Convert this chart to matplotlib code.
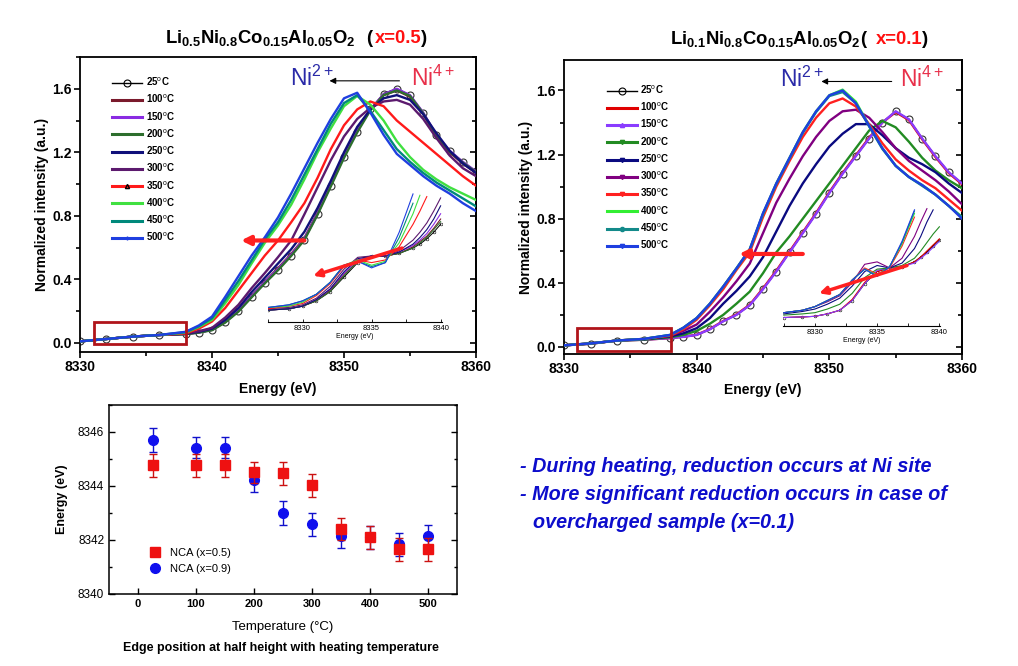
import numpy as np
import matplotlib
matplotlib.use('Agg')
import matplotlib.pyplot as plt
from matplotlib.lines import Line2D
from matplotlib.patches import Rectangle
from matplotlib.ticker import MultipleLocator

plt.rcParams['font.family'] = ['Liberation Sans', 'DejaVu Sans']
plt.rcParams['mathtext.fontset'] = 'custom'
plt.rcParams['mathtext.rm'] = 'Liberation Sans'
plt.rcParams['mathtext.bf'] = 'Liberation Sans:bold'
plt.rcParams['mathtext.it'] = 'Liberation Sans:italic'

nan = np.nan

# ---------------- data ----------------
temps = [25, 100, 150, 200, 250, 300, 350, 400, 450, 500]
temp_labels = [r'%d$^{\rm o}$C' % t for t in temps]

energy = [8330, 8332, 8334, 8336, 8338, 8339, 8340, 8341, 8342, 8343, 8344, 8345, 8346, 8347,
          8348, 8349, 8350, 8351, 8352, 8353, 8354, 8355, 8356, 8357, 8358, 8359, 8360]

# x = 0.5 sample
L25 = [.010, .025, .040, .050, .055, .065, .080, .130, .200, .290, .380, .460, .550, .650, .810, .990, 1.170, 1.330, 1.470, 1.570, 1.600, 1.560, 1.450, 1.310, 1.210, 1.140, 1.080]
L100 = [.010, .025, .040, .050, .056, .067, .083, .135, .205, .295, .385, .470, .560, .660, .820, 1.000, 1.180, 1.340, 1.470, 1.560, 1.590, 1.550, 1.440, 1.300, 1.200, 1.130, 1.070]
L150 = [.010, .025, .040, .050, .056, .066, .082, .133, .203, .293, .383, .465, .555, .655, .815, .995, 1.175, 1.335, 1.470, 1.565, 1.600, 1.560, 1.450, 1.310, 1.210, 1.140, 1.080]
L200 = [.010, .025, .040, .050, .055, .065, .080, .128, .197, .287, .375, .458, .548, .648, .808, .985, 1.165, 1.325, 1.465, 1.560, 1.590, 1.555, 1.445, 1.305, 1.205, 1.135, 1.075]
L250 = [.010, .025, .040, .050, .058, .070, .090, .145, .220, .320, .410, .500, .590, .700, .850, 1.020, 1.200, 1.360, 1.470, 1.540, 1.560, 1.530, 1.440, 1.320, 1.210, 1.130, 1.070]
L300 = [.010, .025, .040, .050, .060, .074, .095, .160, .240, .345, .440, .540, .645, .810, .980, 1.150, 1.300, 1.410, 1.480, 1.520, 1.530, 1.500, 1.410, 1.290, 1.180, 1.100, 1.050]
L350 = [.010, .025, .040, .050, .060, .090, .135, .220, .330, .440, .550, .645, .760, .880, 1.040, 1.220, 1.370, 1.470, 1.520, 1.490, 1.400, 1.330, 1.260, 1.190, 1.120, 1.050, .990]
L400 = [.010, .025, .040, .050, .065, .100, .145, .250, .365, .500, .630, .740, .870, 1.030, 1.200, 1.350, 1.490, 1.555, 1.500, 1.400, 1.270, 1.170, 1.090, 1.030, .980, .940, .900]
L450 = [.010, .025, .040, .050, .068, .105, .155, .270, .390, .520, .650, .760, .900, 1.060, 1.220, 1.380, 1.510, 1.560, 1.460, 1.340, 1.220, 1.140, 1.070, 1.010, .960, .910, .860]
L500 = [.010, .025, .040, .050, .070, .110, .166, .290, .420, .550, .665, .790, .940, 1.100, 1.260, 1.410, 1.540, 1.575, 1.450, 1.310, 1.190, 1.120, 1.050, .990, .940, .880, .830]

# x = 0.1 sample
R25 = [.010, .020, .040, .045, .055, .063, .075, .110, .160, .200, .260, .360, .470, .590, .710, .830, .960, 1.080, 1.190, 1.300, 1.400, 1.470, 1.420, 1.300, 1.190, 1.090, 1.020]
R100 = [.010, .020, .040, .045, .055, .064, .076, .112, .162, .203, .263, .365, .475, .595, .715, .835, .965, 1.085, 1.195, 1.305, 1.400, 1.465, 1.415, 1.295, 1.185, 1.085, 1.015]
R150 = [.010, .020, .040, .045, .055, .063, .075, .110, .160, .200, .260, .360, .470, .590, .710, .830, .960, 1.080, 1.190, 1.300, 1.400, 1.470, 1.420, 1.300, 1.190, 1.090, 1.020]
R200 = [.010, .020, .040, .045, .060, .075, .100, .145, .200, .270, .345, .460, .590, .690, .800, .910, 1.020, 1.130, 1.240, 1.350, 1.410, 1.370, 1.280, 1.180, 1.100, 1.040, .990]
R250 = [.010, .022, .040, .048, .065, .085, .117, .180, .270, .350, .440, .560, .720, .880, 1.020, 1.140, 1.250, 1.330, 1.390, 1.390, 1.320, 1.240, 1.180, 1.140, 1.090, 1.020, .960]
R300 = [.010, .022, .040, .050, .070, .100, .140, .220, .310, .410, .520, .710, .900, 1.050, 1.190, 1.310, 1.410, 1.470, 1.480, 1.430, 1.340, 1.240, 1.160, 1.100, 1.040, .970, .890]
R350 = [.010, .022, .040, .050, .070, .110, .170, .260, .360, .480, .590, .810, 1.000, 1.160, 1.310, 1.430, 1.520, 1.550, 1.500, 1.390, 1.270, 1.170, 1.100, 1.040, .990, .920, .850]
R400 = [.010, .022, .040, .050, .075, .120, .180, .270, .377, .490, .610, .830, 1.020, 1.180, 1.340, 1.470, 1.570, 1.605, 1.530, 1.380, 1.240, 1.130, 1.060, 1.010, .950, .880, .810]
R450 = [.010, .022, .040, .050, .075, .120, .180, .270, .375, .490, .605, .830, 1.015, 1.175, 1.335, 1.465, 1.565, 1.590, 1.520, 1.375, 1.235, 1.130, 1.060, 1.005, .950, .880, .810]
R500 = [.010, .022, .040, .050, .075, .120, .180, .270, .377, .490, .610, .835, 1.020, 1.180, 1.340, 1.470, 1.570, 1.600, 1.520, 1.380, 1.240, 1.130, 1.060, 1.010, .950, .880, .800]

# inset (pre-edge) curves, arbitrary units
energy_inset = [8327.5, 8329, 8330, 8331, 8332, 8333, 8334, 8335, 8336, 8337, 8338, 8338.5, 8339, 8339.5, 8340]
IL25 = [.09, .10, .12, .16, .23, .34, .45, .50, .50, .52, .56, .59, .63, .68, .74]
IL100 = [.09, .10, .12, .16, .24, .36, .46, .50, .50, .52, .57, .61, .65, .71, .78]
IL150 = [.09, .10, .12, .17, .25, .37, .47, .50, .50, .53, .58, .62, .67, .74, .82]
IL200 = [.09, .10, .12, .16, .23, .35, .46, .50, .50, .52, .56, .60, .64, .70, .76]
IL250 = [.09, .10, .12, .17, .25, .38, .48, .50, .50, .53, .59, .64, .70, .78, .88]
IL300 = [.10, .11, .13, .18, .27, .40, .49, .50, .50, .54, .62, .68, .75, .84, .94]
IL350 = [.10, .12, .14, .20, .29, .42, .47, .45, .47, .57, .74, .84, .95, nan, nan]
IL400 = [.11, .12, .15, .21, .30, .43, .47, .43, .46, .60, .82, .96, nan, nan, nan]
IL450 = [.11, .13, .16, .21, .30, .43, .46, .42, .45, .64, .90, nan, nan, nan, nan]
IL500 = [.11, .13, .16, .21, .30, .43, .46, .41, .45, .68, .97, nan, nan, nan, nan]

IR25 = [.07, .075, .08, .10, .13, .21, .35, .45, .48, .49, .53, .57, .61, .66, .71]
IR100 = [.07, .075, .08, .10, .13, .22, .36, .45, .48, .49, .53, .57, .62, .67, .72]
IR150 = [.07, .075, .08, .10, .13, .21, .35, .46, .48, .49, .52, .56, .60, .65, .70]
IR200 = [.09, .10, .11, .14, .18, .27, .40, .47, .48, .50, .56, .62, .69, .76, .82]
IR250 = [.10, .12, .14, .18, .23, .33, .45, .50, .48, .52, .64, .74, .86, .96, nan]
IR300 = [.11, .13, .16, .20, .25, .36, .51, .53, .48, .56, .74, .86, .97, nan, nan]
IR350 = [.11, .13, .16, .21, .26, .38, .48, .43, .48, .66, .90, nan, nan, nan, nan]
IR400 = [.11, .13, .16, .21, .26, .38, .47, .42, .49, .68, .93, nan, nan, nan, nan]
IR450 = [.11, .13, .16, .21, .26, .38, .47, .41, .49, .69, .95, nan, nan, nan, nan]
IR500 = [.11, .13, .16, .21, .26, .38, .47, .41, .49, .70, .96, nan, nan, nan, nan]

# edge position vs temperature
edge_x05 = [8344.77, 8344.77, 8344.77, 8344.50, 8344.47, 8344.03, 8342.41, 8342.10, 8341.66, 8341.66]
edge_x09 = [8345.70, 8345.42, 8345.42, 8344.22, 8343.00, 8342.58, 8342.13, 8342.10, 8341.84, 8342.14]
err_x05 = [0.43, 0.43, 0.43, 0.40, 0.43, 0.43, 0.40, 0.43, 0.43, 0.43]
err_x09 = [0.43, 0.40, 0.40, 0.43, 0.43, 0.43, 0.43, 0.43, 0.43, 0.43]

left_series = [L25, L100, L150, L200, L250, L300, L350, L400, L450, L500]
right_series = [R25, R100, R150, R200, R250, R300, R350, R400, R450, R500]
left_inset = [IL25, IL100, IL150, IL200, IL250, IL300, IL350, IL400, IL450, IL500]
right_inset = [IR25, IR100, IR150, IR200, IR250, IR300, IR350, IR400, IR450, IR500]

left_colors = ['black', '#7a1a2c', '#8a2be2', '#2d6e2d', '#10107a', '#5c1a6e', '#ff1a1a', '#40e040', '#00897b', '#1f3fe0']
right_colors = ['black', '#e00000', '#8a3cff', '#228b22', '#0a0a80', '#800080', '#ff2020', '#33ee33', '#138a8a', '#1f3fe0']
left_mk = ['o', None, None, None, None, None, '^', None, None, '+']
right_mk = ['o', None, '^', 'v', 'v', 'v', 'v', None, 'o', 'v']

# ---------------- figure ----------------
W, H = 1018, 666
fig = plt.figure(figsize=(W / 100, H / 100), dpi=100)


def fax(x0, y0, x1, y1):
    return fig.add_axes([x0 / W, 1 - y1 / H, (x1 - x0) / W, (y1 - y0) / H])


def style_main(ax, ylim):
    ax.set_xlim(8330, 8360)
    ax.set_ylim(*ylim)
    ax.xaxis.set_major_locator(MultipleLocator(10))
    ax.xaxis.set_minor_locator(MultipleLocator(5))
    ax.yaxis.set_major_locator(MultipleLocator(0.4))
    ax.yaxis.set_minor_locator(MultipleLocator(0.2))
    ax.tick_params(which='both', direction='out', top=False, right=False, width=1.2, labelsize=10, pad=1.5)
    ax.tick_params(which='major', length=4.5)
    ax.tick_params(which='minor', length=3)
    for lab in ax.get_xticklabels() + ax.get_yticklabels():
        lab.set_fontweight('bold')
    sec = ax.secondary_yaxis('right')
    sec.yaxis.set_major_locator(MultipleLocator(0.4))
    sec.yaxis.set_minor_locator(MultipleLocator(0.2))
    sec.tick_params(which='both', direction='in', labelright=False, width=1.2)
    sec.tick_params(which='major', length=4.5)
    sec.tick_params(which='minor', length=3)
    for s in ax.spines.values():
        s.set_linewidth(1.3)
    sec.spines['right'].set_linewidth(1.3)
    ax.set_xlabel('Energy (eV)', fontsize=10, fontweight='bold')
    ax.set_ylabel('Normalized intensity (a.u.)', fontsize=10, fontweight='bold')
    ax.xaxis.set_label_coords(0.5, -0.10)
    ax.yaxis.set_label_coords(-0.078, 0.5)


def draw_main(ax, series, colors, markers, labels, leg_anchor):
    handles = []
    for i, (y, c) in enumerate(zip(series, colors)):
        if i == 0:
            ax.plot(energy, y, color=c, lw=1.0, marker='o', ms=5, mfc='none', mec='#333333', mew=0.8, zorder=2)
        else:
            ax.plot(energy, y, color=c, lw=1.7, zorder=3)
        mk = markers[i]
        if i == 0:
            h = Line2D([], [], color=c, lw=1.0, marker='o', ms=5, mfc='none', mec='black', mew=0.8)
        else:
            h = Line2D([], [], color=c, lw=2.2, marker=mk, ms=3, mec=c if c != '#ff1a1a' else 'black')
        handles.append(h)
    leg = ax.legend(handles, labels, loc='upper left', bbox_to_anchor=leg_anchor, frameon=False,
                    handlelength=3.1, handletextpad=0.35, labelspacing=0.5, borderpad=0, borderaxespad=0,
                    prop={'size': 7, 'weight': 'bold'})
    return leg


def draw_inset(ax, series, colors, xlim):
    for i, (y, c) in enumerate(zip(series, colors)):
        if i == 0:
            ax.plot(energy_inset, y, color=c, lw=0.7, marker='o', ms=2, mfc='none', mew=0.4)
        else:
            ax.plot(energy_inset, y, color=c, lw=0.8)
    ax.set_xlim(*xlim)
    ax.set_ylim(0, 1.0)
    ax.patch.set_alpha(0)
    for k in ['left', 'right', 'top']:
        ax.spines[k].set_visible(False)
    ax.spines['bottom'].set_linewidth(0.8)
    ax.set_yticks([])
    ax.xaxis.set_major_locator(MultipleLocator(5))
    ax.xaxis.set_minor_locator(MultipleLocator(2.5))
    ax.tick_params(which='both', direction='in', length=2, width=0.6, labelsize=5.5, pad=2)
    ax.set_xlabel('Energy (eV)', fontsize=5, labelpad=1)


# --- left main panel ---
axL = fax(80, 57, 476, 352)
draw_main(axL, left_series, left_colors, left_mk, temp_labels, (0.081, 0.937))
style_main(axL, (-0.057, 1.80))
axL.add_patch(Rectangle((8331.06, -0.006), 6.97, 0.14, fill=False, ec='#b0141a', lw=2, zorder=5))
axL.annotate('', xy=(8342.2, 0.645), xytext=(8347.0, 0.645),
             arrowprops=dict(arrowstyle='-|>', color='#ff2020', lw=3, mutation_scale=13, shrinkA=0, shrinkB=0), zorder=6)
axL.annotate('', xy=(8348.9, 1.65), xytext=(8354.2, 1.65),
             arrowprops=dict(arrowstyle='-|>', color='black', lw=0.8, mutation_scale=9, shrinkA=0, shrinkB=0))
axL.text(8345.9, 1.62, r'Ni$^{2+}$', color='#2a2aa8', fontsize=16.5, va='baseline', ha='left')
axL.text(8355.05, 1.62, r'Ni$^{4+}$', color='#e8304a', fontsize=16.5, va='baseline', ha='left')

# --- right main panel ---
axR = fax(564, 60, 962, 354)
draw_main(axR, right_series, right_colors, right_mk, temp_labels, (0.107, 0.92))
style_main(axR, (-0.044, 1.79))
axR.add_patch(Rectangle((8331.0, -0.023), 7.04, 0.14, fill=False, ec='#b0141a', lw=2, zorder=5))
axR.annotate('', xy=(8343.2, 0.58), xytext=(8348.0, 0.58),
             arrowprops=dict(arrowstyle='-|>', color='#ff2020', lw=3, mutation_scale=13, shrinkA=0, shrinkB=0), zorder=6)
axR.annotate('', xy=(8349.4, 1.656), xytext=(8354.7, 1.656),
             arrowprops=dict(arrowstyle='-|>', color='black', lw=0.8, mutation_scale=9, shrinkA=0, shrinkB=0))
axR.text(8346.3, 1.623, r'Ni$^{2+}$', color='#2a2aa8', fontsize=16.5, va='baseline', ha='left')
axR.text(8355.3, 1.623, r'Ni$^{4+}$', color='#e8304a', fontsize=16.5, va='baseline', ha='left')

# --- insets ---
axIL = fax(268, 190, 442, 322)
draw_inset(axIL, left_inset, left_colors, (8327.5, 8340.1))
axIL.annotate('', xy=(0.26, 0.35), xytext=(0.77, 0.56), xycoords='axes fraction',
              arrowprops=dict(arrowstyle='-|>', color='#ff2020', lw=2.5, mutation_scale=11, shrinkA=0, shrinkB=0))

axIR = fax(783, 205, 940, 326)
draw_inset(axIR, right_inset, right_colors, (8327.44, 8340.05))
axIR.annotate('', xy=(0.23, 0.27), xytext=(0.79, 0.50), xycoords='axes fraction',
              arrowprops=dict(arrowstyle='-|>', color='#ff2020', lw=2.5, mutation_scale=11, shrinkA=0, shrinkB=0))

# --- bottom edge-position panel ---
axB = fax(109, 405, 457, 594)
axB.errorbar(temps, edge_x09, yerr=err_x09, fmt='o', color='#1010ee', ecolor='#1010cc', ms=7,
             capsize=3, elinewidth=1, capthick=1, zorder=3)
axB.errorbar(temps, edge_x05, yerr=err_x05, fmt='s', color='#ee1111', ecolor='#cc1111', ms=7,
             capsize=3, elinewidth=1, capthick=1, zorder=4)
axB.set_xlim(-50, 550)
axB.set_ylim(8340, 8347)
axB.xaxis.set_major_locator(MultipleLocator(100))
axB.yaxis.set_major_locator(MultipleLocator(2))
axB.yaxis.set_minor_locator(MultipleLocator(1))
axB.tick_params(which='both', direction='in', right=True, top=False, width=1)
axB.tick_params(which='major', length=4)
axB.tick_params(which='minor', length=2.5)
axB.tick_params(axis='x', labelsize=8)
axB.tick_params(axis='y', labelsize=8.5)
for lab in axB.get_xticklabels():
    lab.set_fontweight('bold')
for s in axB.spines.values():
    s.set_linewidth(1.1)
axB.set_xlabel('Temperature (°C)', fontsize=9.5)
axB.set_ylabel('Energy (eV)', fontsize=9, fontweight='bold')
axB.xaxis.set_label_coords(0.5, -0.145)
axB.yaxis.set_label_coords(-0.118, 0.5)
hB = [Line2D([], [], ls='none', marker='s', ms=7, color='#ee1111'),
      Line2D([], [], ls='none', marker='o', ms=7, color='#1010ee')]
axB.legend(hB, ['NCA (x=0.5)', 'NCA (x=0.9)'], loc='upper left', bbox_to_anchor=(0.115, 0.245), frameon=False,
           handlelength=1.0, handletextpad=0.9, labelspacing=0.55, borderpad=0, borderaxespad=0,
           prop={'size': 8})

fig.text(281 / W, 1 - 648 / H, 'Edge position at half height with heating temperature',
         fontsize=9, fontweight='bold', ha='center', va='center')

# --- titles (multi-colour) ---
renderer = fig.canvas.get_renderer()


def rainbow(x_px, base_px, parts, size):
    x = x_px
    for s, c, gap in parts:
        x += gap
        t = fig.text(x / W, 1 - base_px / H, s, color=c, fontsize=size, fontweight='bold',
                     va='baseline', ha='left')
        x += t.get_window_extent(renderer=renderer).width


rainbow(165, 43.3, [(r'$\mathbf{Li_{0.5}Ni_{0.8}Co_{0.15}Al_{0.05}O_2}$', 'black', 0),
                    ('(', 'black', 11), ('x=0.5', '#ff1010', 2), (')', 'black', 0)], 13.3)
rainbow(670, 44.3, [(r'$\mathbf{Li_{0.1}Ni_{0.8}Co_{0.15}Al_{0.05}O_2}$', 'black', 0),
                    ('(', 'black', 0), ('x=0.1', '#ff1010', 9), (')', 'black', 0)], 13.3)

# --- notes ---
note_c = '#0d0dcc'
fig.text(520 / W, 1 - 466 / H, '- During heating, reduction occurs at Ni site', color=note_c,
         fontsize=14.2, fontweight='bold', style='italic', va='center', ha='left')
fig.text(520 / W, 1 - 494 / H, '- More significant reduction occurs in case of', color=note_c,
         fontsize=14.2, fontweight='bold', style='italic', va='center', ha='left')
fig.text(533 / W, 1 - 522 / H, 'overcharged sample (x=0.1)', color=note_c,
         fontsize=14.2, fontweight='bold', style='italic', va='center', ha='left')

fig.savefig('out.png', dpi=100)
